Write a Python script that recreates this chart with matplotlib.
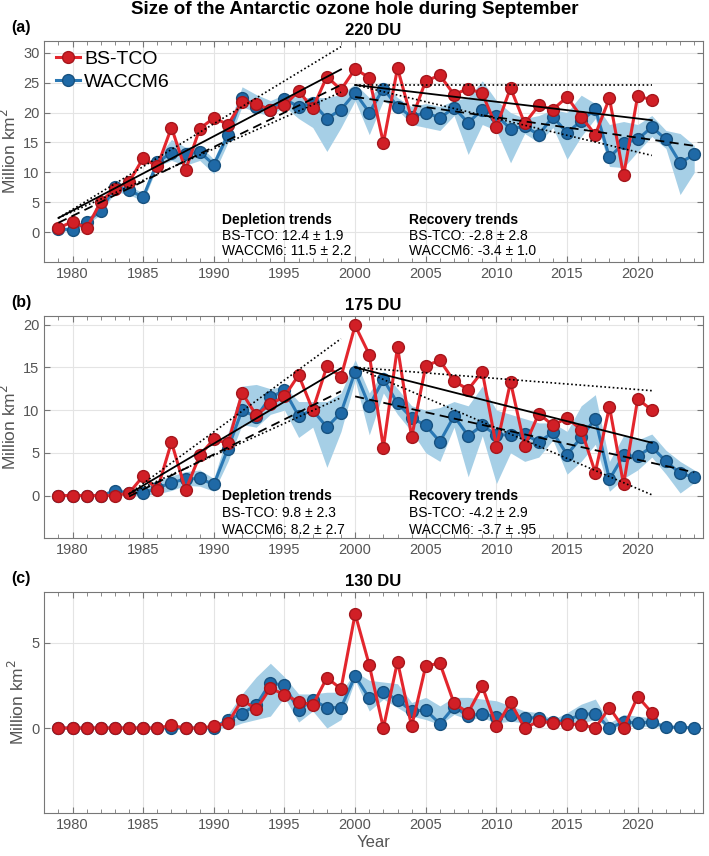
import numpy as np
import matplotlib
matplotlib.use("Agg")
import matplotlib.pyplot as plt

plt.rcParams['font.family'] = ['Liberation Sans', 'DejaVu Sans']

# ---- data ----
years_obs = list(range(1979, 2022))   # BS-TCO
years_mod = list(range(1979, 2025))   # WACCM6

# 220 DU
bstco_220 = [0.7, 1.8, 0.7, 5.1, 7.3, 8.4, 12.4, 11.0, 17.5, 10.4,
             17.3, 19.1, 18.0, 21.8, 21.5, 20.4, 21.2, 23.6, 20.7, 26.0,
             23.8, 27.3, 25.8, 14.9, 27.4, 18.9, 25.3, 26.2, 23.0, 24.0,
             23.2, 17.6, 24.1, 18.2, 21.2, 20.5, 22.6, 19.3, 16.3, 22.4,
             9.5, 22.8, 22.1]
waccm_220 = [0.6, 0.4, 1.8, 3.6, 7.6, 7.0, 5.9, 11.7, 13.3, 13.0,
             13.4, 11.3, 16.3, 22.5, 21.0, 20.5, 22.2, 21.0, 21.6, 19.0,
             20.5, 23.3, 20.0, 24.0, 21.0, 19.3, 20.0, 19.1, 20.8, 18.3,
             20.5, 19.5, 17.3, 17.7, 16.3, 19.3, 16.6, 18.6, 20.6, 12.5,
             14.9, 15.5, 17.6, 15.5, 11.6, 13.0]
waccm_220_lo = [0.3, 0.1, 1.3, 3.0, 6.8, 6.3, 5.2, 11.0, 12.0, 11.2,
                12.0, 9.8, 15.0, 21.0, 20.0, 19.5, 21.0, 19.0, 17.5, 13.5,
                17.5, 22.0, 16.3, 22.0, 20.5, 18.0, 17.5, 17.0, 19.5, 13.0,
                18.0, 17.0, 11.6, 16.5, 15.0, 17.5, 12.2, 16.0, 19.0, 11.0,
                10.8, 13.5, 16.0, 14.0, 6.3, 10.0]
waccm_220_hi = [0.9, 0.8, 2.3, 4.2, 8.4, 7.7, 6.6, 12.5, 15.5, 14.2,
                14.5, 12.2, 17.5, 24.3, 23.0, 22.0, 23.0, 22.5, 22.5, 22.5,
                23.0, 24.8, 22.5, 25.0, 22.5, 21.0, 21.5, 21.0, 22.0, 22.5,
                25.3, 22.0, 20.0, 19.0, 19.5, 20.5, 20.0, 22.9, 21.5, 18.0,
                18.5, 18.0, 19.5, 17.0, 16.5, 14.5]

# 175 DU
bstco_175 = [0.0, 0.0, 0.0, 0.0, 0.0, 0.3, 2.3, 0.7, 6.25, 0.65,
             4.7, 6.6, 6.1, 12.0, 9.4, 10.7, 11.6, 14.1, 10.0, 15.1,
             13.9, 19.9, 16.5, 5.6, 17.4, 6.8, 15.2, 15.8, 13.4, 12.4,
             14.5, 5.7, 13.3, 5.8, 9.6, 8.2, 9.1, 7.7, 2.7, 10.4,
             1.3, 11.3, 10.0]
waccm_175 = [0.0, 0.0, 0.0, 0.0, 0.55, 0.3, 0.3, 0.9, 1.5, 1.95,
             2.0, 1.3, 5.5, 10.0, 9.2, 11.5, 12.3, 9.3, 10.0, 8.0,
             9.7, 14.5, 10.5, 13.6, 10.8, 9.1, 8.2, 6.3, 9.3, 7.0,
             8.2, 7.1, 7.1, 7.2, 6.25, 7.4, 4.8, 6.8, 9.0, 1.9,
             4.7, 4.6, 5.7, 4.0, 2.6, 2.15]
waccm_175_lo = [0.0, 0.0, 0.0, 0.0, 0.2, 0.0, 0.0, 0.2, 0.6, 1.2,
                1.1, 0.5, 4.0, 8.3, 8.0, 9.5, 10.0, 6.8, 8.0, 3.3,
                7.5, 13.5, 7.1, 12.0, 9.5, 7.5, 5.0, 4.0, 8.0, 2.2,
                7.0, 1.4, 5.0, 4.0, 4.5, 6.5, 2.5, 4.0, 6.0, 0.5,
                2.0, 3.0, 4.5, 2.5, 0.3, 1.5]
waccm_175_hi = [0.0, 0.0, 0.0, 0.0, 0.9, 0.6, 1.0, 1.8, 2.3, 2.8,
                3.0, 2.0, 7.3, 12.8, 13.0, 12.5, 12.8, 11.0, 11.0, 11.0,
                12.0, 15.9, 12.0, 14.5, 12.5, 10.5, 10.0, 10.3, 11.0, 10.5,
                12.8, 10.0, 9.5, 9.0, 8.5, 8.5, 7.5, 10.5, 11.8, 4.0,
                7.0, 6.5, 7.2, 5.3, 4.0, 3.0]

# 130 DU
bstco_130 = [0.0, 0.0, 0.0, 0.0, 0.0, 0.0, 0.0, 0.0, 0.15, 0.0,
             0.0, 0.1, 0.3, 1.65, 1.1, 2.35, 1.95, 1.55, 1.35, 2.95,
             2.3, 6.7, 3.7, 0.0, 3.9, 0.1, 3.65, 3.8, 1.45, 0.9,
             2.45, 0.1, 1.5, 0.0, 0.4, 0.3, 0.25, 0.2, 0.0, 1.2,
             0.0, 1.85, 0.9]
waccm_130 = [0.0, 0.0, 0.0, 0.0, 0.0, 0.0, 0.0, 0.0, 0.0, 0.0,
             0.0, 0.0, 0.5, 0.85, 1.35, 2.65, 2.5, 1.05, 1.65, 1.2,
             1.2, 3.05, 1.75, 2.1, 1.65, 1.0, 1.05, 0.25, 1.25, 0.7,
             0.85, 0.65, 0.75, 0.6, 0.6, 0.35, 0.45, 0.8, 0.85, 0.0,
             0.35, 0.3, 0.35, 0.05, 0.05, 0.0]
waccm_130_lo = [0.0, 0.0, 0.0, 0.0, 0.0, 0.0, 0.0, 0.0, 0.0, 0.0,
                0.0, 0.0, 0.0, 0.3, 0.5, 0.7, 1.8, 0.35, 1.0, 0.0,
                0.5, 2.8, 1.0, 1.7, 1.2, 0.7, 0.5, 0.2, 0.8, 0.5,
                0.6, 0.3, 0.4, 0.3, 0.3, 0.2, 0.2, 0.3, 0.5, 0.0,
                0.1, 0.1, 0.1, 0.0, 0.0, 0.0]
waccm_130_hi = [0.0, 0.0, 0.0, 0.0, 0.0, 0.0, 0.0, 0.0, 0.0, 0.0,
                0.0, 0.05, 0.8, 2.0, 3.0, 3.8, 3.0, 2.0, 2.0, 2.1,
                2.1, 3.3, 2.8, 2.7, 2.6, 1.5, 1.8, 1.3, 1.8, 1.8,
                1.7, 1.6, 1.3, 1.0, 0.9, 0.5, 0.9, 1.4, 1.7, 0.3,
                0.8, 0.7, 0.6, 0.1, 0.1, 0.05]

# trends: (first year, last year, value at first year, slope per decade, +/-)
dep_bstco_220 = (1979, 1999, 2.4, 12.4, 1.9)
dep_waccm_220 = (1979, 1999, 1.6, 11.5, 2.2)
rec_bstco_220 = (2000, 2021, 24.6, -2.8, 2.8)
rec_waccm_220 = (2000, 2024, 22.6, -3.4, 1.0)
dep_bstco_175 = (1984, 1999, 0.2, 9.8, 2.3)
dep_waccm_175 = (1984, 1999, -0.1, 8.2, 2.7)
rec_bstco_175 = (2000, 2021, 15.0, -4.2, 2.9)
rec_waccm_175 = (2000, 2024, 11.6, -3.7, 0.95)

RED = '#e3262d'
RED_FACE = '#d11f26'
RED_EDGE = '#a5161c'
BLUE = '#2a78b4'
BLUE_FACE = '#1f69a6'
BLUE_EDGE = '#17517f'
BAND = '#a6cfe6'
GREY = '#555555'


def trend_line(ax, trend, style, with_bounds=False):
    y0, y1, v0, slope, err = trend
    xs = np.array([y0, y1])
    ax.plot(xs, v0 + slope * (xs - y0) / 10.0, color='k', ls=style, lw=1.3, zorder=6)
    if with_bounds:
        for s in (slope + err, slope - err):
            ax.plot(xs, v0 + s * (xs - y0) / 10.0, color='k', ls=(0, (1, 1.5)),
                    lw=1.2, zorder=6)


def draw_panel(ax, obs, mod, lo, hi, ylim, yticks, title, label):
    ax.fill_between(years_mod, lo, hi, color=BAND, lw=0, zorder=1)
    ax.plot(years_mod, mod, color=BLUE, lw=2.2, marker='o', ms=8.5,
            mfc=BLUE_FACE, mec=BLUE_EDGE, mew=1.0, zorder=3, label='WACCM6')
    ax.plot(years_obs, obs, color=RED, lw=2.2, marker='o', ms=8.5,
            mfc=RED_FACE, mec=RED_EDGE, mew=1.0, zorder=4, label='BS-TCO')
    ax.set_xlim(1978, 2024.6)
    ax.set_ylim(*ylim)
    ax.set_xticks(range(1980, 2021, 5))
    ax.set_xticks(range(1978, 2025), minor=True)
    ax.set_yticks(yticks)
    ax.grid(True, which='major', color='#e4e4e4', lw=0.8)
    ax.set_axisbelow(True)
    ax.tick_params(which='both', direction='in', top=True, right=True,
                   colors='#777777', labelcolor=GREY, labelsize=10.5)
    ax.tick_params(which='major', length=4)
    ax.tick_params(which='minor', length=3)
    for sp in ax.spines.values():
        sp.set_color('#777777')
        sp.set_linewidth(0.8)
    ax.set_ylabel('Million km$^2$', fontsize=12.5, color=GREY, labelpad=3)
    ax.set_title(title, fontsize=12, fontweight='bold', pad=4)
    ax.text(-0.05, 1.06, label, transform=ax.transAxes, fontsize=11.5,
            fontweight='bold', ha='left', va='center')


def trend_text(ax, x, ys, head, lines):
    ax.text(x, ys[0], head, fontsize=10, fontweight='bold', va='center', zorder=7)
    for y, s in zip(ys[1:], lines):
        ax.text(x, y, s, fontsize=10, va='center', zorder=7)


fig = plt.figure(figsize=(7.09, 8.56), dpi=100)
ax_a = fig.add_axes([0.0625, 0.6936, 0.9286, 0.2589])
ax_b = fig.add_axes([0.0625, 0.3711, 0.9286, 0.2597])
ax_c = fig.add_axes([0.0625, 0.0499, 0.9286, 0.2589])

draw_panel(ax_a, bstco_220, waccm_220, waccm_220_lo, waccm_220_hi,
           (-5, 32), range(0, 31, 5), '220 DU', '(a)')
draw_panel(ax_b, bstco_175, waccm_175, waccm_175_lo, waccm_175_hi,
           (-5, 21), range(0, 21, 5), '175 DU', '(b)')
draw_panel(ax_c, bstco_130, waccm_130, waccm_130_lo, waccm_130_hi,
           (-5, 8), [0, 5], '130 DU', '(c)')

trend_line(ax_a, dep_bstco_220, '-', True)
trend_line(ax_a, dep_waccm_220, (0, (5, 3)))
trend_line(ax_a, rec_bstco_220, '-', True)
trend_line(ax_a, rec_waccm_220, (0, (5, 3)))
trend_line(ax_b, dep_bstco_175, '-', True)
trend_line(ax_b, dep_waccm_175, (0, (5, 3)))
trend_line(ax_b, rec_bstco_175, '-', True)
trend_line(ax_b, rec_waccm_175, (0, (5, 3)))

trend_text(ax_a, 1990.6, [2.1, -0.55, -3.2], 'Depletion trends',
           ['BS-TCO: %.1f \u00b1 %.1f' % dep_bstco_220[3:],
            'WACCM6: %.1f \u00b1 %.1f' % dep_waccm_220[3:]])
trend_text(ax_a, 2003.8, [2.1, -0.55, -3.2], 'Recovery trends',
           ['BS-TCO: %.1f \u00b1 %.1f' % rec_bstco_220[3:],
            'WACCM6: %.1f \u00b1 %.1f' % rec_waccm_220[3:]])
trend_text(ax_b, 1990.6, [-0.1, -2.05, -4.0], 'Depletion trends',
           ['BS-TCO: %.1f \u00b1 %.1f' % dep_bstco_175[3:],
            'WACCM6: %.1f \u00b1 %.1f' % dep_waccm_175[3:]])
trend_text(ax_b, 2003.8, [-0.1, -2.05, -4.0], 'Recovery trends',
           ['BS-TCO: %.1f \u00b1 %.1f' % rec_bstco_175[3:],
            'WACCM6: %.1f \u00b1 .95' % rec_waccm_175[3]])

handles, labels = ax_a.get_legend_handles_labels()
ax_a.legend(handles[::-1], labels[::-1], loc='upper left', frameon=False,
            fontsize=14, handlelength=1.25, handletextpad=0.2,
            borderaxespad=0.2, labelspacing=0.3, bbox_to_anchor=(0.0, 1.01))

ax_c.set_xlabel('Year', fontsize=12, color=GREY, labelpad=2)
fig.text(0.5, 0.989, 'Size of the Antarctic ozone hole during September',
         ha='center', va='center', fontsize=13.5, fontweight='bold')

fig.savefig('out.png', dpi=100)
